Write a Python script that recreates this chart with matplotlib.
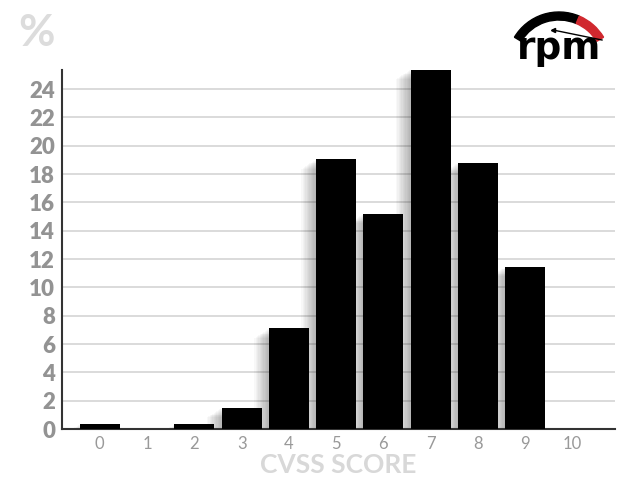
import matplotlib
matplotlib.use("Agg")
import matplotlib.pyplot as plt
from matplotlib.patches import Wedge

# data
scores = [0, 1, 2, 3, 4, 5, 6, 7, 8, 9, 10]
percent = [0.35, 0.0, 0.35, 1.5, 7.1, 19.05, 15.2, 25.4, 18.8, 11.45, 0.0]
yticks = list(range(0, 25, 2))

fig = plt.figure(figsize=(6.2, 4.82), dpi=100)
ax = fig.add_axes([62 / 620, 53 / 482, 553 / 620, 359 / 482])

W = 0.85
# soft shadow to the left of each bar
for k in range(1, 12):
    ext = 0.028 * k
    hs = [max(p - 0.06 * k, 0) if p > 0 else 0 for p in percent]
    ax.bar([s - W / 2 - ext for s in scores], hs, width=W, align="edge",
           color="black", alpha=0.028, zorder=2, linewidth=0)

ax.bar(scores, percent, width=W, color="black", zorder=3, linewidth=0)

ax.set_xlim(-0.8, 10.9)
ax.set_ylim(0, 25.35)
ax.set_xticks(scores)
ax.set_yticks(yticks)
ax.tick_params(axis="x", length=0, pad=5, labelsize=12, labelcolor="#999999")
ax.tick_params(axis="y", length=0, pad=5, labelsize=16, labelcolor="#939393")
for lab in ax.get_xticklabels():
    lab.set_family("Lato")
for lab in ax.get_yticklabels():
    lab.set_family("Lato")
    lab.set_fontweight("heavy")
ax.yaxis.grid(True, color="#d4d4d4", linewidth=1.2, zorder=1)
ax.set_axisbelow(True)
for side in ("top", "right"):
    ax.spines[side].set_visible(False)
ax.spines["left"].set_color("#333333")
ax.spines["bottom"].set_color("#333333")
ax.spines["left"].set_linewidth(1.5)
ax.spines["bottom"].set_linewidth(1.5)

ax.set_xlabel("CVSS SCORE", fontsize=19, fontweight="bold", color="#d8d8d8",
              family="Lato", labelpad=1)
fig.text(18 / 620, 1 - 33 / 482, "%", fontsize=32, color="#dcdcdc",
         family="Lato", fontweight="bold", va="center", ha="left")

# rpm logo (drawn in pixel units, y down)
lg = fig.add_axes([500 / 620, 1 - 70 / 482, 120 / 620, 70 / 482])
lg.set_xlim(500, 620)
lg.set_ylim(70, 0)
lg.axis("off")
cx, cy, R = 559, 64, 52
lg.add_patch(Wedge((cx, cy), R, 211, 293, width=8, color="black"))
lg.add_patch(Wedge((cx, cy), R, 293, 329, width=8, color="#d0282e"))
lg.plot([553, 602], [30, 40], color="black", linewidth=1)
lg.plot([553], [30], marker="<", color="black", markersize=3)
lg.text(559, 49, "rpm", fontsize=27, fontweight="bold", color="black",
        ha="center", va="center", family="DejaVu Sans")

fig.savefig("out.png", dpi=100)
